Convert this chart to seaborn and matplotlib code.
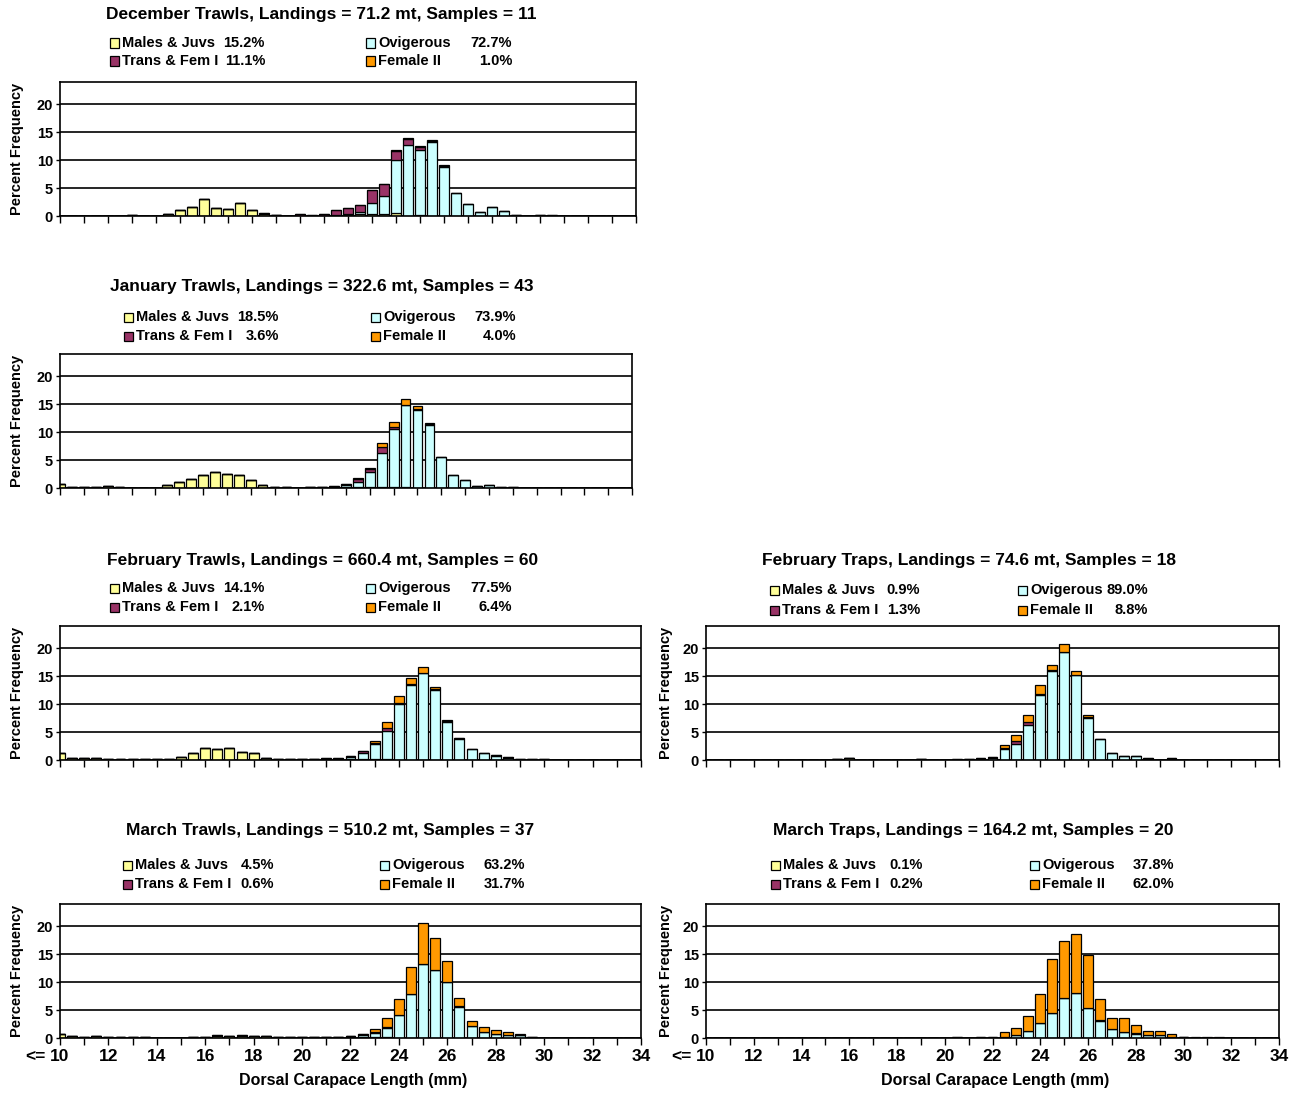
import numpy as np
import matplotlib
matplotlib.use("Agg")
import matplotlib.pyplot as plt
from matplotlib.patches import Rectangle
import seaborn as sns

# ---------------- data ----------------
lengths = [10.0, 10.5, 11.0, 11.5, 12.0, 12.5, 13.0, 13.5, 14.0, 14.5,
           15.0, 15.5, 16.0, 16.5, 17.0, 17.5, 18.0, 18.5, 19.0, 19.5,
           20.0, 20.5, 21.0, 21.5, 22.0, 22.5, 23.0, 23.5, 24.0, 24.5,
           25.0, 25.5, 26.0, 26.5, 27.0, 27.5, 28.0, 28.5, 29.0, 29.5,
           30.0, 30.5, 31.0, 31.5, 32.0, 32.5, 33.0, 33.5, 34.0]

series_names = ["Males & Juvs", "Trans & Fem I", "Ovigerous", "Female II"]

# December Trawls
males_dec = [0, 0, 0, 0, 0, 0, 0.1, 0.05, 0, 0.4,
             1.1, 1.6, 3.1, 1.4, 1.2, 2.4, 1.0, 0.4, 0.1, 0,
             0, 0, 0, 0.1, 0.1, 0.3, 0.4, 0.3, 0.6, 0,
             0.1, 0, 0, 0, 0, 0, 0, 0, 0, 0,
             0, 0, 0, 0, 0, 0, 0, 0, 0]
trans_dec = [0, 0, 0, 0, 0, 0, 0, 0, 0, 0,
             0, 0, 0, 0, 0, 0, 0, 0.1, 0, 0,
             0.4, 0.2, 0.3, 0.9, 1.1, 1.2, 2.4, 2.1, 1.6, 1.1,
             0.6, 0.3, 0.2, 0, 0, 0, 0, 0, 0, 0,
             0.1, 0.1, 0, 0, 0, 0, 0, 0, 0]
ovig_dec = [0, 0, 0, 0, 0, 0, 0, 0, 0, 0,
            0, 0, 0, 0, 0, 0, 0, 0, 0, 0,
            0, 0, 0, 0, 0.3, 0.4, 1.9, 3.3, 9.4, 12.7,
            11.7, 13.2, 8.8, 4.2, 2.1, 0.8, 1.6, 0.9, 0.1, 0,
            0.1, 0.05, 0, 0, 0, 0, 0, 0, 0]
fem2_dec = [0, 0, 0, 0, 0, 0, 0, 0, 0, 0,
            0, 0, 0, 0, 0, 0, 0, 0, 0, 0,
            0, 0, 0, 0, 0, 0, 0, 0.1, 0.3, 0.1,
            0.2, 0.2, 0.1, 0, 0, 0, 0, 0, 0, 0,
            0, 0, 0, 0, 0, 0, 0, 0, 0]

# January Trawls
males_jan = [0.8, 0.2, 0.2, 0.1, 0.3, 0.2, 0, 0, 0, 0.6,
             1.0, 1.7, 2.4, 2.9, 2.5, 2.4, 1.5, 0.5, 0.2, 0.1,
             0, 0.1, 0.1, 0.1, 0.2, 0.2, 0.2, 0.2, 0.2, 0.1,
             0, 0, 0, 0, 0, 0, 0, 0, 0, 0,
             0, 0, 0, 0, 0, 0, 0, 0, 0]
trans_jan = [0, 0, 0, 0, 0, 0, 0, 0, 0, 0,
             0, 0, 0, 0, 0, 0, 0, 0, 0, 0,
             0, 0, 0, 0.1, 0.3, 0.6, 0.6, 1.1, 0.5, 0.1,
             0.2, 0.3, 0.1, 0, 0, 0, 0, 0, 0, 0,
             0, 0, 0, 0, 0, 0, 0, 0, 0]
ovig_jan = [0, 0, 0, 0, 0, 0, 0, 0, 0, 0,
            0, 0, 0, 0, 0, 0, 0, 0, 0, 0,
            0, 0, 0, 0.1, 0.3, 0.9, 2.6, 6.1, 10.3, 14.7,
            14.0, 11.2, 5.5, 2.4, 1.4, 0.35, 0.5, 0.2, 0.2, 0,
            0.05, 0, 0, 0, 0, 0, 0, 0, 0]
fem2_jan = [0, 0, 0, 0, 0, 0, 0, 0, 0, 0,
            0, 0, 0, 0, 0, 0, 0, 0, 0, 0,
            0, 0, 0, 0, 0, 0.1, 0.2, 0.6, 0.9, 1.0,
            0.5, 0.2, 0, 0, 0, 0, 0, 0, 0, 0,
            0, 0, 0, 0, 0, 0, 0, 0, 0]

# February Trawls
males_febt = [1.2, 0.4, 0.3, 0.3, 0.1, 0.1, 0.1, 0.1, 0.1, 0.2,
              0.5, 1.2, 2.2, 2.0, 2.2, 1.4, 1.2, 0.4, 0.15, 0.1,
              0.1, 0.1, 0.2, 0.2, 0.2, 0.2, 0.2, 0.1, 0, 0,
              0, 0, 0, 0, 0, 0, 0, 0, 0, 0,
              0, 0, 0, 0, 0, 0, 0, 0, 0]
trans_febt = [0, 0, 0, 0, 0, 0, 0, 0, 0, 0,
              0, 0, 0, 0, 0, 0, 0, 0, 0, 0,
              0, 0, 0.1, 0.1, 0.1, 0.3, 0.3, 0.5, 0.2, 0.1,
              0, 0.2, 0.2, 0.2, 0.1, 0.1, 0.1, 0.1, 0, 0,
              0, 0, 0, 0, 0, 0, 0, 0, 0]
ovig_febt = [0, 0, 0, 0, 0, 0, 0, 0, 0, 0,
             0, 0, 0, 0, 0, 0, 0, 0, 0, 0,
             0, 0, 0, 0, 0.4, 1.1, 2.6, 5.1, 10.0, 13.5,
             15.6, 12.6, 6.8, 3.7, 1.9, 1.2, 0.8, 0.4, 0.25, 0.1,
             0.1, 0, 0, 0, 0.05, 0, 0, 0, 0]
fem2_febt = [0, 0, 0, 0, 0, 0, 0, 0, 0, 0,
             0, 0, 0, 0, 0, 0, 0, 0, 0, 0,
             0, 0, 0, 0, 0, 0, 0.3, 1.1, 1.2, 1.0,
             1.0, 0.3, 0.1, 0, 0, 0, 0, 0, 0, 0,
             0, 0, 0, 0, 0, 0, 0, 0, 0]

# February Traps
males_febp = [0, 0, 0, 0, 0, 0, 0, 0, 0, 0,
              0, 0.1, 0.35, 0, 0.05, 0, 0.05, 0, 0.1, 0,
              0, 0, 0, 0, 0, 0, 0, 0, 0, 0,
              0, 0, 0, 0, 0, 0, 0, 0, 0, 0,
              0, 0, 0, 0, 0, 0, 0, 0, 0]
trans_febp = [0, 0, 0, 0, 0, 0, 0, 0, 0, 0,
              0, 0, 0, 0, 0, 0, 0, 0, 0.1, 0,
              0, 0.05, 0, 0.1, 0.2, 0.1, 0.6, 0.5, 0.2, 0.1,
              0, 0, 0.1, 0.1, 0, 0, 0.1, 0.1, 0, 0.1,
              0, 0, 0, 0, 0, 0, 0, 0, 0]
ovig_febp = [0, 0, 0, 0, 0, 0, 0, 0, 0, 0,
             0, 0, 0, 0, 0, 0, 0, 0, 0, 0,
             0, 0.05, 0.1, 0.2, 0.3, 2.0, 2.8, 6.3, 11.6, 16.0,
             19.4, 15.3, 7.6, 3.7, 1.2, 0.7, 0.7, 0.2, 0, 0.2,
             0, 0, 0.05, 0, 0, 0, 0, 0, 0]
fem2_febp = [0, 0, 0, 0, 0, 0, 0, 0, 0, 0,
             0, 0, 0, 0, 0, 0, 0, 0, 0, 0,
             0, 0, 0, 0, 0, 0.5, 1.0, 1.3, 1.7, 1.0,
             1.3, 0.7, 0.4, 0, 0, 0, 0, 0, 0, 0,
             0, 0, 0, 0, 0, 0, 0, 0, 0]

# March Trawls
males_mart = [0.8, 0.3, 0.2, 0.3, 0.2, 0.2, 0.1, 0.1, 0.05, 0,
              0, 0.1, 0.1, 0.4, 0.3, 0.4, 0.3, 0.3, 0.15, 0.1,
              0.1, 0.1, 0.1, 0.1, 0.2, 0.2, 0.1, 0.1, 0, 0,
              0, 0, 0, 0, 0, 0, 0, 0, 0, 0,
              0, 0, 0, 0, 0, 0, 0, 0, 0]
trans_mart = [0, 0, 0, 0, 0, 0, 0, 0, 0, 0,
              0, 0, 0, 0.1, 0.1, 0.1, 0.1, 0.1, 0, 0,
              0, 0, 0, 0, 0.1, 0.1, 0.1, 0.1, 0.1, 0,
              0, 0, 0, 0.1, 0, 0, 0, 0, 0, 0,
              0, 0, 0, 0, 0, 0, 0, 0, 0]
ovig_mart = [0, 0, 0, 0, 0, 0, 0, 0, 0, 0,
             0, 0, 0, 0, 0, 0, 0, 0, 0, 0,
             0, 0, 0, 0, 0.1, 0.4, 0.8, 1.7, 4.1, 7.9,
             13.2, 12.2, 10.0, 5.6, 2.1, 1.1, 0.65, 0.45, 0.6, 0.15,
             0, 0, 0, 0, 0, 0, 0, 0, 0]
fem2_mart = [0, 0, 0, 0, 0, 0, 0, 0, 0, 0,
             0, 0, 0, 0, 0, 0, 0, 0, 0, 0,
             0, 0, 0, 0, 0, 0, 0.7, 1.6, 2.8, 4.9,
             7.4, 5.7, 3.8, 1.5, 1.0, 0.9, 0.75, 0.6, 0.1, 0,
             0, 0, 0, 0, 0, 0, 0, 0, 0]

# March Traps
males_marp = [0, 0, 0, 0, 0, 0, 0, 0, 0, 0,
              0, 0, 0, 0, 0, 0, 0.05, 0, 0, 0,
              0.05, 0, 0, 0, 0, 0, 0, 0, 0, 0,
              0, 0, 0, 0, 0, 0, 0, 0, 0, 0,
              0, 0, 0, 0, 0, 0, 0, 0, 0]
trans_marp = [0, 0, 0, 0, 0, 0, 0, 0, 0, 0,
              0, 0, 0, 0, 0, 0, 0, 0, 0, 0,
              0, 0.05, 0, 0.1, 0.1, 0, 0.05, 0, 0.05, 0,
              0, 0, 0, 0.05, 0, 0, 0.05, 0, 0, 0,
              0, 0, 0, 0, 0, 0, 0, 0, 0]
ovig_marp = [0, 0, 0, 0, 0, 0, 0, 0, 0, 0,
             0, 0, 0, 0, 0, 0, 0, 0, 0, 0,
             0, 0.05, 0, 0.05, 0.05, 0.1, 0.5, 1.3, 2.7, 4.4,
             7.2, 8.0, 5.4, 3.1, 1.6, 1.1, 0.8, 0.5, 0.5, 0.1,
             0.1, 0.05, 0.05, 0.05, 0, 0, 0, 0, 0]
fem2_marp = [0, 0, 0, 0, 0, 0, 0, 0, 0, 0,
             0, 0, 0, 0, 0, 0, 0, 0, 0, 0,
             0, 0, 0, 0, 0, 0.9, 1.3, 2.6, 5.2, 9.8,
             10.2, 10.6, 9.5, 3.8, 2.0, 2.4, 1.5, 0.7, 0.8, 0.55,
             0.05, 0.1, 0.05, 0.05, 0, 0, 0, 0, 0]

titles = ["December Trawls, Landings = 71.2 mt, Samples = 11",
          "January Trawls, Landings = 322.6 mt, Samples = 43",
          "February Trawls, Landings = 660.4 mt, Samples = 60",
          "February Traps, Landings = 74.6 mt, Samples = 18",
          "March Trawls, Landings = 510.2 mt, Samples = 37",
          "March Traps, Landings = 164.2 mt, Samples = 20"]

# legend percentages: Males & Juvs, Trans & Fem I, Ovigerous, Female II
pct_dec = ["15.2%", "11.1%", "72.7%", "1.0%"]
pct_jan = ["18.5%", "3.6%", "73.9%", "4.0%"]
pct_febt = ["14.1%", "2.1%", "77.5%", "6.4%"]
pct_febp = ["0.9%", "1.3%", "89.0%", "8.8%"]
pct_mart = ["4.5%", "0.6%", "63.2%", "31.7%"]
pct_marp = ["0.1%", "0.2%", "37.8%", "62.0%"]

x_ticks = [10, 11, 12, 13, 14, 15, 16, 17, 18, 19, 20, 21, 22,
           23, 24, 25, 26, 27, 28, 29, 30, 31, 32, 33, 34]
y_ticks = [0, 5, 10, 15, 20]

# ---------------- style ----------------
sns.set_theme(style="white")
plt.rcParams['font.family'] = ['Liberation Sans', 'DejaVu Sans']
plt.rcParams['font.weight'] = 'bold'
plt.rcParams['axes.labelweight'] = 'bold'
plt.rcParams['text.color'] = 'black'
plt.rcParams['axes.labelcolor'] = 'black'
plt.rcParams['xtick.color'] = 'black'
plt.rcParams['ytick.color'] = 'black'

COL_MALE = "#FFFF99"
COL_TRANS = "#993366"
COL_OVIG = "#CCFFFF"
COL_FEM2 = "#FF9900"

W, H = 1300, 1094
fig = plt.figure(figsize=(W / 100, H / 100), dpi=100)
fig.patch.set_facecolor("white")


def px_axes(l, t, r, b):
    return fig.add_axes([l / W, 1 - b / H, (r - l) / W, (b - t) / H])


def draw_panel(ax, males, trans, ovig, fem2, bottom_labels):
    base = np.zeros(len(lengths))
    # stacking order (bottom -> top): Males & Juvs, Ovigerous, Trans & Fem I, Female II
    for vals, col in [(males, COL_MALE), (ovig, COL_OVIG),
                      (trans, COL_TRANS), (fem2, COL_FEM2)]:
        v = np.asarray(vals, dtype=float)
        sns.barplot(x=lengths, y=v, bottom=base, native_scale=True,
                    width=0.82, color=col, saturation=1, errorbar=None,
                    edgecolor="black", linewidth=0.9, ax=ax)
        base = base + v
    ax.set_xlim(10, 34)
    ax.set_ylim(0, 24)
    ax.set_yticks(y_ticks)
    ax.set_yticklabels([str(t) for t in y_ticks], fontsize=10.5,
                       fontweight="bold", color="black")
    ax.set_xticks(x_ticks)
    if bottom_labels:
        ax.set_xticklabels([str(t) if t % 2 == 0 else "" for t in x_ticks],
                           fontsize=12.5, fontweight="bold", color="black")
    else:
        ax.set_xticklabels([])
    ax.tick_params(axis="x", direction="out", length=5, width=1.0,
                   color="black", pad=3, bottom=True)
    ax.tick_params(axis="y", direction="out", length=3, width=1.0,
                   color="black", pad=2, left=True)
    ax.set_xlabel("")
    ax.set_ylabel("")
    ax.yaxis.grid(True, color="black", linewidth=1.2)
    ax.xaxis.grid(False)
    ax.set_axisbelow(True)
    for s in ax.spines.values():
        s.set_visible(True)
        s.set_color("black")
        s.set_linewidth(1.2)
    ax.set_facecolor("white")


def draw_legend(sq1, pr1, sq2, pr2, y1, y2, pcts):
    items = [(sq1, pr1, y1, series_names[0], COL_MALE, pcts[0]),
             (sq1, pr1, y2, series_names[1], COL_TRANS, pcts[1]),
             (sq2, pr2, y1, series_names[2], COL_OVIG, pcts[2]),
             (sq2, pr2, y2, series_names[3], COL_FEM2, pcts[3])]
    for sx, pr, yy, name, col, pct in items:
        fig.add_artist(Rectangle((sx / W, 1 - (yy + 4.5) / H), 9 / W, 9 / H,
                                 transform=fig.transFigure, facecolor=col,
                                 edgecolor="black", linewidth=0.9))
        fig.text((sx + 12) / W, 1 - yy / H, name, ha="left", va="center",
                 fontsize=10.5, fontweight="bold", color="black")
        fig.text(pr / W, 1 - yy / H, pct, ha="right", va="center",
                 fontsize=10.5, fontweight="bold", color="black")


def ylabel_at(ax, l, r, xc):
    ax.set_ylabel("Percent Frequency", fontsize=10.5, fontweight="bold",
                  color="black")
    ax.yaxis.set_label_coords((xc + 6 - l) / (r - l), 0.5)


panels = [
    # (l, t, r, b), data, bottom labels, title x, title y, legend spec, ylabel x
    ((60, 82, 636, 216), (males_dec, trans_dec, ovig_dec, fem2_dec), False,
     321, 15, (110, 265, 366, 512, 43, 61, pct_dec), 18),
    ((60, 354, 632, 488), (males_jan, trans_jan, ovig_jan, fem2_jan), False,
     322, 287, (124, 279, 371, 516, 317, 336, pct_jan), 18),
    ((60, 626, 641, 760), (males_febt, trans_febt, ovig_febt, fem2_febt), False,
     323, 560, (110, 265, 366, 512, 588, 607, pct_febt), 18),
    ((706, 626, 1279, 760), (males_febp, trans_febp, ovig_febp, fem2_febp), False,
     969, 560, (770, 920, 1018, 1148, 590, 610, pct_febp), 667),
    ((60, 904, 641, 1038), (males_mart, trans_mart, ovig_mart, fem2_mart), True,
     330, 831, (123, 274, 380, 525, 865, 884, pct_mart), 18),
    ((706, 904, 1279, 1038), (males_marp, trans_marp, ovig_marp, fem2_marp), True,
     973, 831, (771, 923, 1030, 1174, 865, 884, pct_marp), 667),
]

for (box, data, blab, tx, ty, leg, ylx), title in zip(panels, titles):
    l, t, r, b = box
    ax = px_axes(l, t, r, b)
    draw_panel(ax, *data, bottom_labels=blab)
    ylabel_at(ax, l, r, ylx)
    fig.text(tx / W, 1 - ty / H, title, ha="center", va="center",
             fontsize=12.5, fontweight="bold", color="black")
    draw_legend(*leg)
    if blab:
        fig.text((l - 14) / W, 1 - 1057 / H, "<=", ha="right", va="center",
                 fontsize=12.5, fontweight="bold", color="black")
        fig.text(((l + r) / 2 + 3) / W, 1 - 1081 / H,
                 "Dorsal Carapace Length (mm)", ha="center", va="center",
                 fontsize=11.5, fontweight="bold", color="black")

fig.savefig("out.png", dpi=100, facecolor="white")
